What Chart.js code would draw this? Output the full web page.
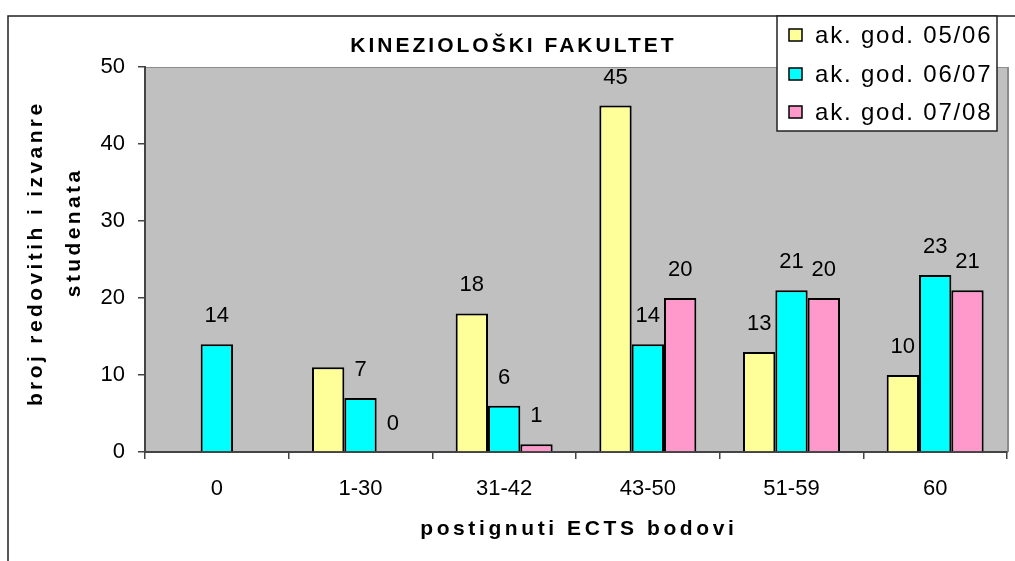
<!DOCTYPE html>
<html>
<head>
<meta charset="utf-8">
<script src="https://cdn.jsdelivr.net/npm/chart.js@4.4.1/dist/chart.umd.min.js"></script>
<style>
  html, body { margin: 0; padding: 0; background: #fff; }
  #wrap { width: 1015px; height: 561px; position: relative; }
</style>
</head>
<body>
<div id="wrap"><canvas id="ectsChart" width="1015" height="561"></canvas></div>
<script>
// podaci s grafa
const categories = ['0', '1-30', '31-42', '43-50', '51-59', '60'];
const seriesNames = ['ak. god. 05/06', 'ak. god. 06/07', 'ak. god. 07/08'];
const god0506 = [null, 11, 18, 45, 13, 10];
const god0607 = [14, 7, 6, 14, 21, 23];
const god0708 = [null, 0, 1, 20, 20, 21];
// oznake koje su prikazane iznad stupaca (žuti 1-30 nema oznaku)
const shown0506 = [false, false, true, true, true, true];
const shown0607 = [true, true, true, true, true, true];
const shown0708 = [false, true, true, true, true, true];
const yTicks = [0, 10, 20, 30, 40, 50];

const chartTitle = 'KINEZIOLOŠKI FAKULTET';
const yTitle = ['broj redovitih i izvanre', 'studenata'];
const xTitle = 'postignuti ECTS bodovi';

const colors = ['#FFFF99', '#00FFFF', '#FF99CC'];
const FONT = "'Liberation Sans', Arial, sans-serif";

// pozadina i okvir
const backgroundPlugin = {
    id: 'excelBackground',
    beforeDraw(chart) {
        const ctx = chart.ctx;
        const a = chart.chartArea;
        ctx.save();
        ctx.fillStyle = '#fff';
        ctx.fillRect(0, 0, chart.width, chart.height);
        // vanjski okvir
        ctx.strokeStyle = '#222';
        ctx.lineWidth = 1.5;
        ctx.beginPath();
        ctx.moveTo(8, chart.height);
        ctx.lineTo(8, 16);
        ctx.lineTo(chart.width, 16);
        ctx.stroke();
        // sivo područje
        ctx.fillStyle = '#C0C0C0';
        ctx.fillRect(a.left, a.top, a.right - a.left, a.bottom - a.top);
        ctx.strokeStyle = '#8c8c8c';
        ctx.lineWidth = 1;
        ctx.strokeRect(a.left + 0.5, a.top + 0.5, a.right - a.left, a.bottom - a.top);
        ctx.lineWidth = 2;
        ctx.beginPath();
        ctx.moveTo(a.right + 1, a.top);
        ctx.lineTo(a.right + 1, a.bottom);
        ctx.stroke();
        ctx.restore();
    }
};

// tekst s razmakom slova, centriran bez viška zadnjeg razmaka
function spacedText(ctx, text, x, y, spacing) {
    ctx.letterSpacing = spacing + 'px';
    ctx.fillText(text, x + spacing / 2, y);
    ctx.letterSpacing = '0px';
}

// oznake, naslovi i legenda
const textPlugin = {
    id: 'excelTexts',
    afterDraw(chart) {
        const ctx = chart.ctx;
        const a = chart.chartArea;
        const shown = [shown0506, shown0607, shown0708];
        ctx.save();
        ctx.fillStyle = '#000';

        // vrijednosti iznad stupaca
        ctx.font = '22px ' + FONT;
        ctx.textAlign = 'center';
        ctx.textBaseline = 'middle';
        chart.data.datasets.forEach((ds, di) => {
            const meta = chart.getDatasetMeta(di);
            meta.data.forEach((bar, i) => {
                if (ds.data[i] === null || !shown[di][i]) return;
                ctx.fillText(String(ds.data[i]), bar.x, bar.y - 28);
            });
        });

        // naslov
        ctx.font = 'bold 21px ' + FONT;
        spacedText(ctx, chartTitle, 512, 46, 3);

        // naslov osi x
        spacedText(ctx, xTitle, 577, 529, 3.6);

        // naslov osi y
        ctx.save();
        ctx.translate(36, 255);
        ctx.rotate(-Math.PI / 2);
        spacedText(ctx, yTitle[0], 0, 0, 3.4);
        ctx.restore();
        ctx.save();
        ctx.translate(74, 234);
        ctx.rotate(-Math.PI / 2);
        spacedText(ctx, yTitle[1], 0, 0, 3.4);
        ctx.restore();

        // legenda
        const lx = 777, ly = 16, lw = 220, lh = 115;
        ctx.fillStyle = '#fff';
        ctx.fillRect(lx, ly, lw, lh);
        ctx.strokeStyle = '#222';
        ctx.lineWidth = 1.5;
        ctx.strokeRect(lx, ly, lw, lh);
        ctx.font = '24px ' + FONT;
        ctx.textAlign = 'left';
        ctx.letterSpacing = '1.8px';
        const rows = [35, 74, 112];
        seriesNames.forEach((name, i) => {
            ctx.fillStyle = colors[i];
            ctx.fillRect(789, rows[i] - 6, 13, 12);
            ctx.strokeStyle = '#000';
            ctx.lineWidth = 1.5;
            ctx.strokeRect(789, rows[i] - 6, 13, 12);
            ctx.fillStyle = '#000';
            ctx.fillText(name, 815, rows[i] + 1);
        });
        ctx.restore();
    }
};

const datasets = [god0506, god0607, god0708].map((vals, i) => ({
    label: seriesNames[i],
    data: vals,
    backgroundColor: colors[i],
    borderColor: '#000',
    borderWidth: 2,
    categoryPercentage: 0.675,
    barPercentage: 1.0
}));

const ctx = document.getElementById('ectsChart').getContext('2d');
new Chart(ctx, {
    type: 'bar',
    data: { labels: categories, datasets: datasets },
    options: {
        responsive: false,
        animation: false,
        layout: { padding: { top: 67, right: 8, left: 0, bottom: 0 } },
        plugins: {
            legend: { display: false },
            title: { display: false },
            tooltip: { enabled: false }
        },
        scales: {
            x: {
                afterFit(scale) { scale.height = 109; },
                grid: {
                    offset: true,
                    drawOnChartArea: false,
                    tickLength: 7,
                    color: '#444',
                    lineWidth: 1.5
                },
                border: { display: true, color: '#444', width: 2 },
                ticks: {
                    color: '#000',
                    font: { family: FONT, size: 22 },
                    padding: 17
                }
            },
            y: {
                min: 0,
                max: 50,
                afterFit(scale) { scale.width = 145; },
                afterBuildTicks(scale) { scale.ticks = yTicks.map(v => ({ value: v })); },
                grid: {
                    drawOnChartArea: false,
                    tickLength: 7,
                    color: '#444',
                    lineWidth: 1.5
                },
                border: { display: true, color: '#444', width: 2 },
                ticks: {
                    color: '#000',
                    font: { family: FONT, size: 22 },
                    padding: 13
                }
            }
        }
    },
    plugins: [backgroundPlugin, textPlugin]
});
</script>
</body>
</html>
